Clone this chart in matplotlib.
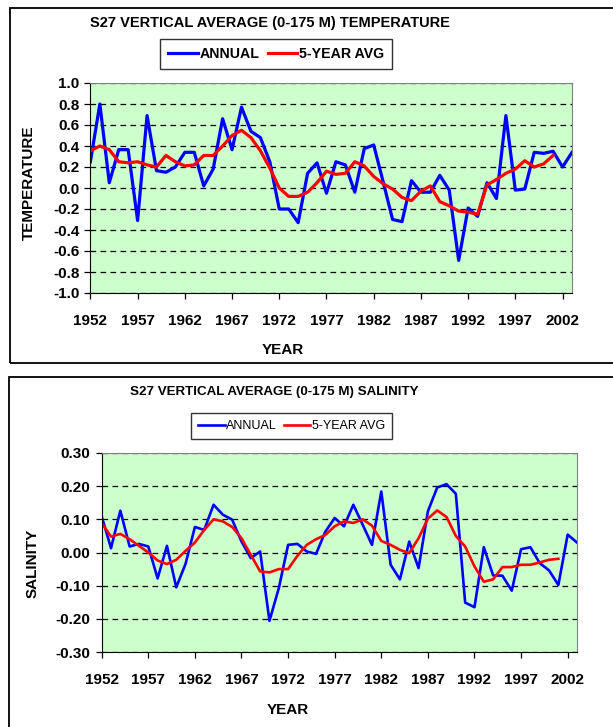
import matplotlib
matplotlib.use("Agg")
import matplotlib.pyplot as plt
from matplotlib.patches import Rectangle
from matplotlib.ticker import FormatStrFormatter, MultipleLocator

plt.rcParams['font.family'] = ['Liberation Sans', 'DejaVu Sans']
plt.rcParams['axes.unicode_minus'] = False

# data
years = list(range(1952, 2004))
avg_years = list(range(1952, 2002))

temp_annual = [0.25, 0.80, 0.05, 0.365, 0.365, -0.31, 0.69, 0.165, 0.15, 0.20,
               0.34, 0.34, 0.02, 0.18, 0.66, 0.365, 0.77, 0.54, 0.48, 0.25,
               -0.20, -0.20, -0.33, 0.14, 0.24, -0.05, 0.25, 0.22, -0.04, 0.375,
               0.41, 0.06, -0.30, -0.32, 0.07, -0.04, -0.04, 0.12, -0.02, -0.69,
               -0.19, -0.27, 0.05, -0.10, 0.69, -0.02, -0.01, 0.34, 0.33, 0.35,
               0.20, 0.34]
temp_avg5 = [0.355, 0.40, 0.365, 0.25, 0.24, 0.25, 0.22, 0.20, 0.31, 0.25,
             0.21, 0.22, 0.31, 0.31, 0.40, 0.50, 0.55, 0.48, 0.355, 0.19,
             0.0, -0.08, -0.08, -0.04, 0.05, 0.16, 0.13, 0.14, 0.25, 0.21,
             0.11, 0.04, -0.01, -0.09, -0.12, -0.03, 0.02, -0.13, -0.17, -0.22,
             -0.23, -0.25, 0.03, 0.08, 0.14, 0.18, 0.26, 0.20, 0.23, 0.31]

sal_annual = [0.109, 0.013, 0.126, 0.018, 0.026, 0.018, -0.078, 0.020, -0.105, -0.034,
              0.077, 0.068, 0.144, 0.114, 0.099, 0.033, -0.017, 0.003, -0.206, -0.108,
              0.023, 0.026, 0.003, -0.004, 0.063, 0.104, 0.079, 0.144, 0.084, 0.023,
              0.184, -0.037, -0.081, 0.033, -0.047, 0.124, 0.196, 0.206, 0.177, -0.151,
              -0.165, 0.016, -0.069, -0.070, -0.115, 0.010, 0.016, -0.032, -0.054, -0.098,
              0.054, 0.030]
sal_avg5 = [0.089, 0.048, 0.056, 0.040, 0.020, 0.0, -0.024, -0.035, -0.022, 0.005,
            0.030, 0.068, 0.100, 0.094, 0.077, 0.043, -0.007, -0.057, -0.060, -0.050,
            -0.050, -0.010, 0.023, 0.040, 0.053, 0.079, 0.094, 0.089, 0.100, 0.081,
            0.035, 0.023, 0.008, -0.002, 0.043, 0.102, 0.127, 0.107, 0.050, 0.018,
            -0.042, -0.088, -0.081, -0.044, -0.044, -0.037, -0.037, -0.030, -0.022, -0.019]

xticks = list(range(1952, 2003, 5))

W, H = 613, 727
fig = plt.figure(figsize=(W / 100, H / 100), dpi=100)


def fx(px):
    return px / W


def fy(py):
    return 1 - py / H


# chart frames
fig.add_artist(Rectangle((fx(10), fy(363)), fx(620), 355 / H, transform=fig.transFigure,
                         fill=False, edgecolor='black', linewidth=1.3))
fig.add_artist(Rectangle((fx(9), fy(740)), fx(620), 363 / H, transform=fig.transFigure,
                         fill=False, edgecolor='black', linewidth=1.3))


def style_axes(ax, lo, hi, step, fmt):
    ax.set_facecolor('#ccffcc')
    ax.set_xlim(1952, 2003)
    ax.set_ylim(lo, hi)
    ax.yaxis.set_major_locator(MultipleLocator(step))
    ax.yaxis.set_major_formatter(FormatStrFormatter(fmt))
    ax.set_xticks(xticks)
    ax.set_xticklabels([str(y) for y in xticks])
    ax.grid(axis='y', color='black', linestyle=(0, (4.5, 3.5)), linewidth=0.9)
    ax.set_axisbelow(True)
    for s in ['top', 'right']:
        ax.spines[s].set_color('#808080')
    for s in ['left', 'bottom']:
        ax.spines[s].set_color('black')
    ax.tick_params(direction='out', length=4, width=0.9, labelsize=11, pad=4)
    for lab in ax.get_xticklabels() + ax.get_yticklabels():
        lab.set_fontweight('bold')
    ax.tick_params(axis='x', pad=11)


# temperature
ax1 = fig.add_axes([fx(90.4), fy(293), (572 - 90.4) / W, 210 / H])
style_axes(ax1, -1.0, 1.0, 0.2, '%.1f')
l1, = ax1.plot(years, temp_annual, color='#0000ff', linewidth=2.3, label='ANNUAL')
l2, = ax1.plot(avg_years, temp_avg5, color='#ff0000', linewidth=2.3, label='5-YEAR AVG')
fig.text(fx(269.5), fy(23), 'S27 VERTICAL AVERAGE (0-175 M) TEMPERATURE',
         ha='center', va='center', fontsize=10.5, fontweight='bold')
fig.text(fx(28.5), fy(183), 'TEMPERATURE', rotation=90, ha='center', va='center',
         fontsize=11, fontweight='bold')
fig.text(fx(283), fy(350), 'YEAR', ha='center', va='center', fontsize=11, fontweight='bold')
leg1 = fig.legend(handles=[l1, l2], loc='center', bbox_to_anchor=(fx(276), fy(54)),
                  ncol=2, frameon=True, fancybox=False, handlelength=2.1,
                  handletextpad=0.1, columnspacing=0.6, borderpad=0.55,
                  prop={'size': 10.2, 'weight': 'bold'})
leg1.get_frame().set_edgecolor('black')
leg1.get_frame().set_linewidth(1.0)

# salinity
ax2 = fig.add_axes([fx(101.7), fy(652), (577 - 101.7) / W, 199 / H])
style_axes(ax2, -0.30, 0.30, 0.10, '%.2f')
m1, = ax2.plot(years, sal_annual, color='#0000ff', linewidth=1.9, label='ANNUAL')
m2, = ax2.plot(avg_years, sal_avg5, color='#ff0000', linewidth=1.9, label='5-YEAR AVG')
fig.text(fx(274), fy(392), 'S27 VERTICAL AVERAGE (0-175 M) SALINITY',
         ha='center', va='center', fontsize=9.6, fontweight='bold')
fig.text(fx(33), fy(563), 'SALINITY', rotation=90, ha='center', va='center',
         fontsize=11, fontweight='bold')
fig.text(fx(288), fy(710), 'YEAR', ha='center', va='center', fontsize=11, fontweight='bold')
leg2 = fig.legend(handles=[m1, m2], loc='center', bbox_to_anchor=(fx(291.5), fy(426)),
                  ncol=2, frameon=True, fancybox=False, handlelength=2.1,
                  handletextpad=0.1, columnspacing=0.6, borderpad=0.55,
                  prop={'size': 9})
leg2.get_frame().set_edgecolor('black')
leg2.get_frame().set_linewidth(1.0)

fig.savefig('out.png', dpi=100)
